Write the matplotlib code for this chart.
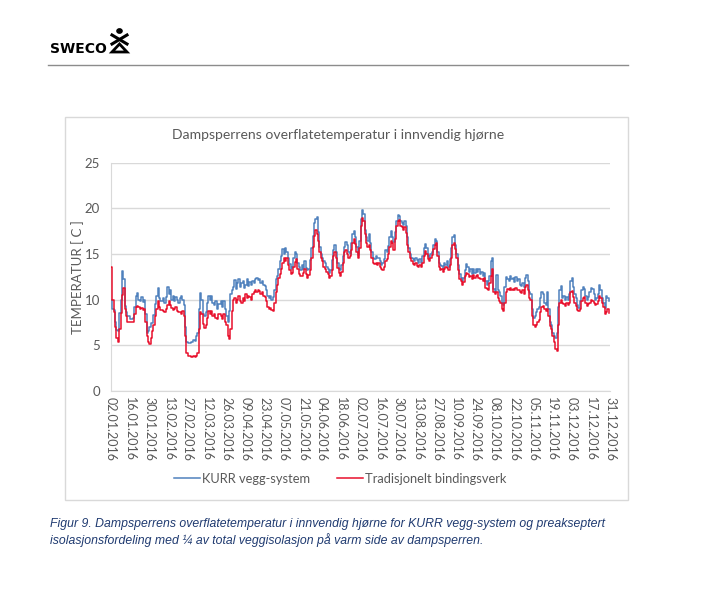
import matplotlib
matplotlib.use("Agg")
import matplotlib.pyplot as plt
from matplotlib.lines import Line2D
from matplotlib.patches import Rectangle, Circle, Polygon

# ---------------- data ----------------
title = "Dampsperrens overflatetemperatur i innvendig hjørne"
ylabel = "TEMPERATUR [ C ]"
series_names = ["KURR vegg-system", "Tradisjonelt bindingsverk"]

tick_days = list(range(0, 365, 14))
tick_labels = ["02.01.2016", "16.01.2016", "30.01.2016", "13.02.2016", "27.02.2016",
               "12.03.2016", "26.03.2016", "09.04.2016", "23.04.2016", "07.05.2016",
               "21.05.2016", "04.06.2016", "18.06.2016", "02.07.2016", "16.07.2016",
               "30.07.2016", "13.08.2016", "27.08.2016", "10.09.2016", "24.09.2016",
               "08.10.2016", "22.10.2016", "05.11.2016", "19.11.2016", "03.12.2016",
               "17.12.2016", "31.12.2016"]

# day offsets from 02.01.2016
days = [0, 1, 2, 3, 4, 5, 6, 7, 8, 9, 10, 11, 12, 14, 16, 17, 18, 19, 20, 21,
        22, 23, 24, 25, 26, 27, 28, 29, 30, 31, 32, 33, 34, 35, 36, 38, 39, 40, 41, 42,
        43, 44, 45, 46, 47, 48, 49, 50, 51, 52, 53, 54, 55, 56, 58, 60, 61, 62, 63, 64,
        65, 66, 67, 68, 69, 70, 71, 72, 73, 74, 75, 76, 77, 78, 80, 81, 82, 83, 84, 85,
        86, 87, 88, 89, 90, 91, 92, 93, 94, 95, 96, 97, 98, 99, 100, 101, 102, 103, 104, 105,
        106, 107, 108, 109, 110, 111, 112, 113, 114, 115, 116, 117, 118, 119, 120, 121, 122, 123, 124, 125,
        126, 127, 128, 129, 130, 131, 132, 133, 134, 135, 136, 137, 138, 139, 140, 141, 142, 143, 144, 145,
        146, 147, 148, 149, 150, 151, 152, 153, 154, 155, 156, 157, 158, 159, 160, 161, 162, 163, 164, 165,
        166, 167, 168, 169, 170, 171, 172, 173, 174, 175, 176, 177, 178, 179, 180, 181, 182, 183, 184, 185,
        186, 187, 188, 189, 190, 191, 192, 193, 194, 195, 196, 197, 198, 199, 200, 201, 202, 203, 204, 205,
        206, 207, 208, 209, 210, 211, 212, 213, 214, 215, 216, 217, 218, 219, 220, 221, 222, 223, 224, 225,
        226, 227, 228, 229, 230, 231, 232, 233, 234, 235, 236, 237, 238, 239, 240, 241, 242, 243, 244, 245,
        246, 247, 248, 249, 250, 251, 252, 253, 254, 255, 256, 257, 258, 259, 260, 261, 262, 263, 264, 265,
        266, 267, 268, 269, 270, 271, 272, 273, 274, 275, 276, 277, 278, 279, 280, 281, 282, 283, 284, 285,
        286, 287, 288, 289, 290, 291, 292, 293, 294, 295, 296, 297, 298, 299, 300, 301, 302, 303, 304, 305,
        306, 307, 308, 309, 310, 311, 312, 313, 314, 315, 316, 317, 318, 319, 320, 321, 322, 323, 324, 325,
        326, 327, 328, 329, 330, 331, 332, 333, 334, 335, 336, 337, 338, 339, 340, 341, 342, 343, 344, 345,
        346, 347, 348, 349, 350, 351, 352, 353, 354, 355, 356, 357, 358, 359, 360, 361, 362, 363]

kurr = [10.0, 9.0, 8.9, 7.5, 6.7, 6.6, 8.5, 10.0, 13.1, 12.2, 9.3, 8.6, 8.2, 7.9, 8.0, 9.2, 10.4, 10.7, 10.0, 9.9,
        10.3, 9.7, 10.0, 8.4, 6.4, 6.6, 7.0, 7.4, 7.4, 8.3, 9.5, 10.4, 11.3, 10.2, 9.8, 10.2, 9.6, 10.3, 11.4, 10.6,
        11.0, 10.0, 10.4, 9.8, 10.3, 10.0, 9.6, 10.2, 10.4, 10.0, 9.4, 7.0, 5.4, 5.2, 5.4, 5.6, 5.5, 6.0, 6.4, 9.0,
        10.7, 10.0, 8.4, 8.2, 8.6, 9.6, 10.4, 10.0, 10.4, 9.6, 9.4, 9.8, 9.0, 9.5, 9.8, 9.2, 9.8, 9.0, 8.2, 7.5,
        8.8, 10.6, 11.0, 11.4, 12.1, 11.2, 11.8, 12.2, 11.4, 11.8, 12.0, 11.3, 11.6, 12.2, 11.5, 11.9, 11.6, 12.0, 11.8, 12.3,
        12.4, 12.1, 12.2, 11.8, 12.0, 11.6, 11.5, 11.0, 10.4, 10.2, 10.4, 10.0, 10.3, 11.0, 12.2, 12.6, 13.4, 14.2, 14.8, 15.5,
        15.0, 15.6, 15.2, 14.6, 13.9, 13.4, 13.6, 14.6, 15.2, 15.0, 14.0, 13.6, 13.2, 13.8, 13.4, 14.2, 13.5, 13.2, 13.4, 14.3,
        15.6, 17.0, 18.4, 18.8, 19.0, 17.4, 15.8, 15.0, 14.6, 14.2, 14.0, 13.6, 13.4, 12.9, 13.2, 14.3, 15.4, 16.0, 15.2, 14.0,
        13.4, 13.2, 13.8, 14.8, 15.8, 16.3, 16.0, 15.2, 15.0, 16.2, 17.2, 17.5, 16.8, 15.8, 14.9, 16.4, 18.8, 19.8, 19.4, 17.6,
        16.8, 16.4, 17.2, 16.2, 15.2, 14.6, 14.4, 14.8, 14.5, 14.6, 14.2, 13.8, 14.0, 14.4, 15.4, 15.2, 15.9, 16.8, 17.5, 16.9,
        16.3, 17.4, 18.6, 19.3, 19.2, 18.6, 18.4, 18.2, 18.6, 18.0, 16.8, 15.6, 15.0, 14.6, 14.4, 14.2, 14.6, 14.3, 14.0, 14.4,
        14.0, 14.8, 15.6, 16.1, 15.6, 14.8, 14.6, 15.0, 15.2, 16.0, 16.6, 16.4, 15.2, 14.0, 13.8, 13.7, 13.4, 14.0, 13.8, 14.2,
        13.6, 14.4, 15.6, 16.8, 17.1, 16.0, 15.0, 13.8, 12.8, 12.4, 12.0, 12.4, 13.2, 13.9, 13.6, 13.0, 13.4, 12.8, 13.3, 12.9,
        13.4, 13.0, 13.4, 12.8, 13.0, 12.6, 12.9, 12.0, 11.6, 12.0, 12.6, 14.2, 14.6, 11.2, 10.8, 12.7, 11.0, 10.8, 10.4, 9.6,
        9.4, 11.4, 12.5, 12.2, 12.0, 12.6, 12.2, 12.4, 11.9, 12.5, 12.0, 12.3, 11.6, 11.5, 11.8, 11.4, 12.4, 12.7, 12.0, 10.8,
        10.6, 9.0, 8.0, 8.2, 8.6, 9.0, 9.2, 10.2, 10.8, 10.6, 9.6, 9.4, 10.8, 9.0, 7.6, 7.2, 6.4, 6.0, 5.8, 6.4,
        9.2, 11.0, 11.5, 10.2, 10.4, 10.0, 10.3, 10.0, 10.6, 12.0, 12.4, 11.4, 10.6, 10.2, 9.4, 9.1, 9.8, 11.0, 11.4, 11.2,
        10.4, 10.0, 10.3, 10.8, 11.3, 11.2, 10.6, 10.0, 10.2, 10.6, 11.6, 11.0, 10.2, 9.6, 9.1, 10.4, 10.2, 9.8]

trad = [13.6, 10.0, 8.6, 7.0, 5.8, 5.4, 6.8, 8.5, 10.5, 11.3, 9.0, 8.2, 7.6, 7.5, 7.6, 8.4, 9.2, 9.3, 9.2, 9.0,
        9.1, 8.9, 9.0, 7.6, 6.0, 5.4, 5.1, 5.8, 6.6, 7.2, 8.2, 9.0, 9.8, 9.2, 8.9, 8.7, 8.6, 9.0, 9.4, 9.8,
        9.4, 9.1, 8.9, 9.0, 9.2, 8.8, 8.6, 8.6, 8.4, 8.7, 8.2, 6.0, 4.2, 3.8, 3.7, 3.8, 3.7, 3.8, 4.2, 6.8,
        8.6, 8.4, 7.3, 6.9, 7.2, 8.0, 8.7, 8.4, 8.7, 8.2, 8.4, 8.0, 7.9, 8.4, 8.2, 7.9, 8.4, 7.6, 7.2, 6.0,
        5.7, 6.8, 8.8, 10.0, 10.2, 9.6, 10.0, 10.4, 9.8, 9.6, 10.2, 9.9, 10.6, 10.2, 10.4, 10.3, 10.0, 10.6, 10.8, 11.0,
        10.8, 11.0, 10.9, 10.6, 10.8, 10.4, 10.3, 9.8, 9.2, 9.0, 9.1, 8.9, 8.8, 9.6, 10.8, 11.6, 12.4, 12.8, 13.3, 14.0,
        14.5, 14.2, 14.5, 13.8, 13.2, 12.8, 12.9, 13.6, 14.1, 14.4, 13.4, 12.8, 12.6, 12.6, 12.9, 13.4, 12.8, 12.4, 12.7, 13.2,
        14.5, 15.8, 17.0, 17.6, 17.2, 16.4, 15.2, 14.6, 14.2, 13.6, 13.4, 13.0, 12.8, 12.4, 12.6, 13.2, 14.8, 15.2, 14.6, 13.5,
        12.9, 12.6, 13.0, 14.0, 15.2, 15.4, 15.0, 14.6, 14.8, 15.4, 16.2, 16.6, 16.1, 15.2, 14.6, 15.6, 18.0, 18.9, 18.6, 17.2,
        16.2, 15.8, 16.0, 15.4, 14.6, 14.0, 13.9, 14.0, 13.8, 14.0, 13.6, 13.4, 13.2, 13.6, 14.2, 14.4, 15.0, 15.8, 16.4, 16.2,
        15.4, 16.6, 18.0, 18.6, 18.7, 18.0, 17.9, 17.6, 17.9, 17.3, 16.0, 15.2, 14.6, 14.2, 13.9, 13.8, 14.0, 13.7, 13.6, 13.8,
        13.6, 14.0, 14.8, 15.3, 15.0, 14.4, 14.2, 14.6, 14.9, 15.5, 16.0, 16.2, 14.8, 13.6, 13.2, 13.3, 13.0, 13.4, 13.6, 13.5,
        13.2, 13.8, 14.6, 16.0, 16.2, 15.5, 14.6, 13.2, 12.3, 12.0, 11.6, 11.9, 12.6, 12.9, 12.8, 12.5, 12.6, 12.3, 12.7, 12.4,
        12.6, 12.7, 12.4, 12.2, 12.3, 12.0, 12.4, 11.3, 11.2, 11.0, 11.8, 12.6, 13.4, 10.8, 10.6, 10.8, 10.2, 9.8, 9.6, 9.0,
        8.8, 9.6, 10.8, 11.2, 11.0, 11.3, 11.0, 11.2, 11.0, 11.3, 11.1, 11.0, 10.8, 10.7, 11.0, 10.6, 11.4, 11.6, 11.0, 10.2,
        10.0, 8.2, 7.2, 7.0, 7.2, 7.6, 7.8, 8.6, 9.2, 9.3, 9.0, 8.8, 9.0, 8.2, 7.1, 6.8, 6.0, 5.4, 4.6, 4.4,
        7.2, 9.6, 10.0, 9.6, 9.5, 9.3, 9.6, 9.4, 9.6, 10.8, 10.9, 10.3, 9.6, 9.3, 8.9, 8.7, 9.0, 9.8, 10.2, 10.3,
        9.6, 9.3, 9.5, 9.6, 10.0, 9.9, 9.6, 9.4, 9.5, 9.8, 10.4, 10.2, 9.6, 9.2, 8.4, 8.6, 9.0, 8.5]

caption_lines = ["Figur 9. Dampsperrens overflatetemperatur i innvendig hjørne for KURR vegg-system og preakseptert",
                 "isolasjonsfordeling med \u00bc av total veggisolasjon på varm side av dampsperren."]

# ---------------- style ----------------
W, H = 706, 589
fig = plt.figure(figsize=(W / 100, H / 100), dpi=100)
fig.patch.set_facecolor("white")
FONT = ["Lato", "DejaVu Sans"]
GRAY = "#595959"
BLUE = "#4f81bd"
RED = "#e8102c"

def fx(px):
    return px / W

def fy(py):
    return 1 - py / H

# header: logo + rule
fig.text(fx(50), fy(53), "SWECO", fontsize=10, fontweight="bold", family="DejaVu Sans",
         color="black", ha="left", va="baseline")
fig.add_artist(Circle((fx(119.5), fy(31)), 2.6 / W, transform=fig.transFigure, color="black"))
fig.add_artist(Line2D([fx(112), fx(127)], [fy(35), fy(44)], transform=fig.transFigure, color="black", lw=2.2))
fig.add_artist(Line2D([fx(127), fx(112)], [fy(35), fy(44)], transform=fig.transFigure, color="black", lw=2.2))
fig.add_artist(Polygon([(fx(112), fy(52)), (fx(127), fy(52)), (fx(119.5), fy(44))], closed=True,
                       fill=False, edgecolor="black", lw=2.0, transform=fig.transFigure))
fig.add_artist(Line2D([fx(48), fx(628)], [fy(65), fy(65)], transform=fig.transFigure, color="#8c8c8c", lw=1.0))

# chart frame
fig.add_artist(Rectangle((fx(65), fy(500)), fx(628) - fx(65), fy(117) - fy(500), transform=fig.transFigure,
                         fill=False, edgecolor="#d9d9d9", lw=1.0))

# axes
x0, x1 = 111, 610
y0, y1 = 391.0, 162.5
ax = fig.add_axes([fx(x0), fy(y0), fx(x1) - fx(x0), fy(y1) - fy(y0)])
ax.plot(days, kurr, color=BLUE, lw=1.1, drawstyle="steps-post", label=series_names[0], zorder=3)
ax.plot(days, trad, color=RED, lw=1.1, drawstyle="steps-post", label=series_names[1], zorder=4)
ax.set_xlim(0, 364)
ax.set_ylim(0, 25)
ax.set_yticks([0, 5, 10, 15, 20, 25])
ax.set_xticks(tick_days)
ax.set_xticklabels(tick_labels, rotation=270, fontsize=9, family=FONT, color=GRAY)
for lab in ax.get_yticklabels():
    lab.set_fontsize(9.5)
    lab.set_family(FONT)
    lab.set_color(GRAY)
ax.tick_params(axis="both", length=0)
ax.tick_params(axis="y", pad=8)
ax.tick_params(axis="x", pad=4)
ax.grid(axis="y", color="#d9d9d9", lw=1.0)
ax.set_axisbelow(True)
for s in ["top", "right"]:
    ax.spines[s].set_visible(False)
ax.spines["left"].set_color("#d9d9d9")
ax.spines["bottom"].set_color("#d9d9d9")
ax.set_ylabel(ylabel, fontsize=9.5, family=FONT, color=GRAY, labelpad=0)

fig.text(fx(338), fy(135), title, fontsize=10.1, family=FONT, color=GRAY, ha="center", va="center")

leg = ax.legend(loc="center", bbox_to_anchor=(fx(340), fy(479)), bbox_transform=fig.transFigure,
                ncol=2, frameon=False, handlelength=2.0, handletextpad=0.15, columnspacing=2.1,
                prop={"family": FONT, "size": 9.3})
for t in leg.get_texts():
    t.set_color(GRAY)

# caption
CAP = "#1f3a70"
fig.text(fx(50), fy(524), caption_lines[0], fontsize=8.8, style="italic", family="Liberation Sans",
         color=CAP, ha="left", va="center")
fig.text(fx(50), fy(540), caption_lines[1], fontsize=8.8, style="italic", family="Liberation Sans",
         color=CAP, ha="left", va="center")

fig.savefig("out.png", dpi=100)
